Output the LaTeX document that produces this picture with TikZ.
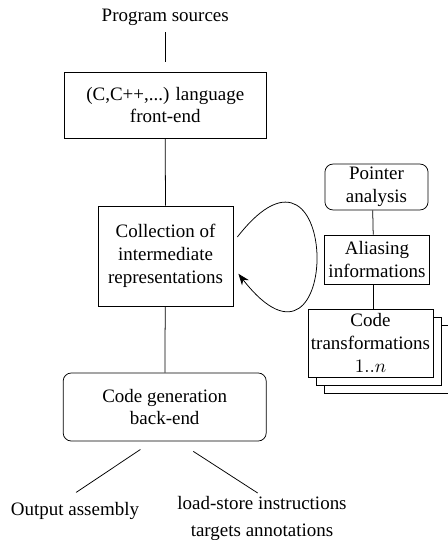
\documentclass[tikz,border=0pt]{standalone}
\usepackage{fontspec}
\setmainfont{Liberation Serif}
\usepackage{tikz}
\usetikzlibrary{shadows,arrows.meta}
\tikzstyle{block}=[rectangle, draw, align=center, inner sep=1.5pt, color=black]
\tikzstyle{rblock}=[block, rounded corners=0.15cm]
\tikzstyle{lbl}=[align=center, anchor=base]

\begin{document}
\begin{tikzpicture}
			\useasboundingbox (0,0) rectangle (8.278,-10);
			% main chain of the compiler
			\node[lbl] (src) at (3.06,-0.4) {Program sources};
			\node[block, minimum width=3.74cm, minimum height=1.22cm] (front) at (3.06,-1.944) {(C,C++,...) language\\front-end};
			\node[block, minimum width=2.5cm, minimum height=1.85cm] (coll) at (3.065,-4.74) {Collection of\\intermediate\\representations};
			\node[rblock, minimum width=3.76cm, minimum height=1.26cm] (gen) at (3.05,-7.537) {Code generation\\back-end};
			\node[lbl] (out) at (1.389,-9.537) {Output assembly};
			\node[lbl] (ls) at (4.852,-9.93) {load-store instructions\\[2pt]targets annotations};
			% passes on the right
			\node[rblock, minimum width=1.91cm, minimum height=0.85cm] (ptr) at (6.972,-3.463) {Pointer\\analysis};
			\node[block, minimum width=1.93cm, minimum height=0.91cm] (alias) at (6.981,-4.806) {Aliasing\\informations};
			\node[block, fill=white, minimum width=2.31cm, minimum height=1.26cm,
				double copy shadow={shadow xshift=0.15cm, shadow yshift=-0.15cm}] (code) at (6.861,-6.352) {Code\\transformations\\$1..n$};
			% connections
			\draw[shorten >=0.18cm] (src) -- (front);
			\draw (front) -- (coll);
			\draw (coll) -- (gen);
			\draw ([xshift=-0.45cm,yshift=-0.15cm]gen.south) -- ([xshift=0.02cm,yshift=0.05cm]out.north);
			\draw ([xshift=0.53cm,yshift=-0.185cm]gen.south) -- ([xshift=-0.08cm,yshift=-0.06cm]ls.north);
			\draw ([xshift=-0.07cm]ptr.south) -- ([xshift=-0.07cm]alias.north);
			\draw ([xshift=-0.07cm]alias.south) -- ([xshift=-0.07cm]alias.south |- code.north);
			% loop on the intermediate representations
			\draw[-{Stealth[length=6pt,width=4.5pt]}] ([xshift=0.074cm,yshift=0.352cm]coll.east) .. controls +(52:3.15) and +(-52:3.15) .. ([xshift=0.093cm,yshift=-0.33cm]coll.east);
		\end{tikzpicture}
\end{document}
